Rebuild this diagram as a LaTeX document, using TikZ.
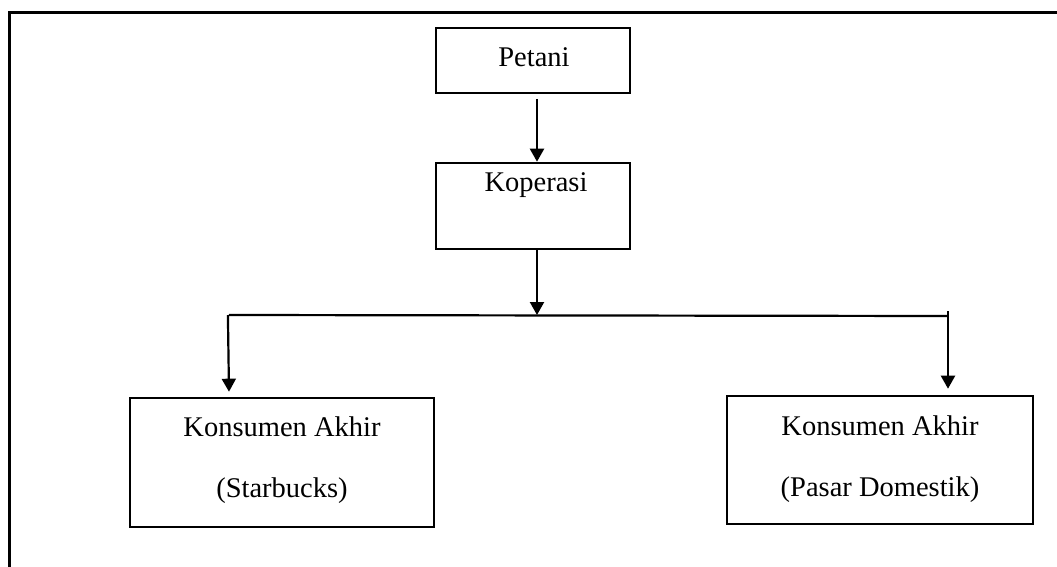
\documentclass[tikz,border=0pt]{standalone}
\usepackage{fontspec}
\setmainfont{Liberation Serif}
\usetikzlibrary{arrows.meta}
\begin{document}
\begin{tikzpicture}[x=1pt,y=-1pt,
  box/.style={draw,line width=2.6pt,inner sep=0pt},
  txt/.style={anchor=base,inner sep=0pt,font=\fontsize{28.5}{34}\selectfont},
  arr/.style={line width=2.2pt,-{Triangle[length=13pt,width=14pt]}},
  conn/.style={line width=2.2pt}]
\useasboundingbox (0,0) rectangle (1057,567);
% frame (top and left edges visible)
\draw[line width=3pt] (9,567) -- (9,13) -- (1057,13);
% boxes
\node[box,minimum width=194pt,minimum height=65pt] (pet) at (533,60.5) {};
\node[box,minimum width=194pt,minimum height=86pt] (kop) at (533,206) {};
\node[box,minimum width=304pt,minimum height=129pt] (kl) at (282,462.5) {};
\node[box,minimum width=306pt,minimum height=128pt] (kr) at (880,460) {};
% texts
\node[txt] (tpet) at (534,67) {Petani};
\node[txt] (tkop) at (536,191) {Koperasi};
\node[txt] (tkl1) at (282,436) {Konsumen Akhir};
\node[txt] (tkl2) at (282,497) {(Starbucks)};
\node[txt] (tkr1) at (880,435) {Konsumen Akhir};
\node[txt] (tkr2) at (880,496) {(Pasar Domestik)};
% connectors
\coordinate (pa) at (537,99);
\coordinate (ka) at (537,249);
\coordinate (j) at (537,315);
\coordinate (L) at (229,315);
\coordinate (R) at (948,316);
\coordinate (Rt) at (948,311);
\draw[arr] (pa) -- (pa |- kop.north);
\draw[arr] (ka) -- (j);
\draw[conn] (L) -- (R);
\draw[arr] ([xshift=-1.1pt]L) -- ([yshift=5pt]L |- kl.north);
\draw[arr] (Rt) -- ([yshift=6pt]Rt |- kr.north);
\end{tikzpicture}
\end{document}
